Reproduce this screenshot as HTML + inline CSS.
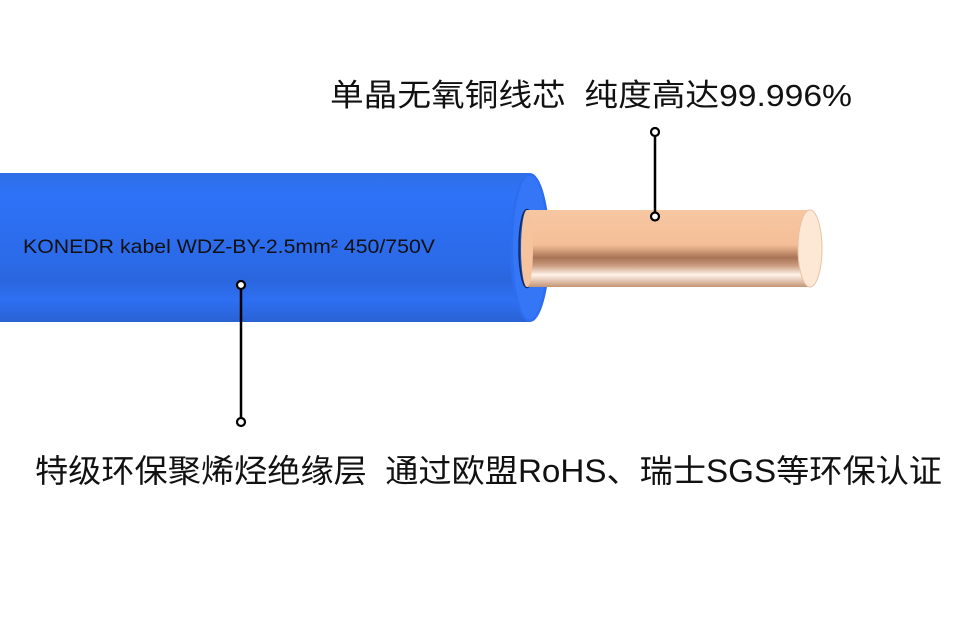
<!DOCTYPE html>
<html><head><meta charset="utf-8"><style>
html,body{margin:0;padding:0;background:#fff;width:953px;height:635px;overflow:hidden}
</style></head><body>
<svg width="953" height="635" viewBox="0 0 953 635" xmlns="http://www.w3.org/2000/svg">
<defs>
<linearGradient id="blue" x1="0" y1="0" x2="0" y2="1">
<stop offset="0" stop-color="#2f6fe6"/>
<stop offset="0.15" stop-color="#2e72f8"/>
<stop offset="0.6" stop-color="#2b6ae8"/>
<stop offset="0.72" stop-color="#2a66dd"/>
<stop offset="0.85" stop-color="#2e6ff2"/>
<stop offset="1" stop-color="#2a62d4"/>
</linearGradient>
<linearGradient id="cu" x1="0" y1="0" x2="0" y2="1">
<stop offset="0" stop-color="#f6c7a2"/>
<stop offset="0.45" stop-color="#f4bf98"/>
<stop offset="0.62" stop-color="#a87456"/>
<stop offset="0.72" stop-color="#c99a7c"/>
<stop offset="0.84" stop-color="#fff3ea"/>
<stop offset="1" stop-color="#c49474"/>
</linearGradient>
</defs>
<rect x="0" y="173" width="530" height="149" fill="url(#blue)"/>
<ellipse cx="530" cy="247.5" rx="20" ry="74.5" fill="#2d6df0"/>
<ellipse cx="530" cy="247.5" rx="17" ry="72" fill="#3476f6"/>
<ellipse cx="527" cy="248.5" rx="8" ry="39" fill="#1f4fb4" stroke="#102a66" stroke-width="1.5"/>
<rect x="527" y="210" width="283" height="77" fill="url(#cu)"/>
<ellipse cx="527" cy="248.5" rx="6" ry="38.5" fill="#f5c39d"/>
<ellipse cx="810" cy="248.5" rx="12" ry="38.5" fill="#fde8d6" stroke="#e8c2a4" stroke-width="1"/>
<text x="23" y="253" font-family="Liberation Sans, sans-serif" font-size="19" fill="#111" textLength="412" lengthAdjust="spacingAndGlyphs">KONEDR kabel WDZ-BY-2.5mm² 450/750V</text>
<line x1="655" y1="136" x2="655" y2="212" stroke="#000" stroke-width="2.5"/>
<circle cx="655" cy="132" r="4" fill="#fff" stroke="#000" stroke-width="2.2"/>
<circle cx="655" cy="216.5" r="4" fill="#fff" stroke="#000" stroke-width="2.2"/>
<line x1="241" y1="289" x2="241" y2="418" stroke="#000" stroke-width="2.5"/>
<circle cx="241" cy="285" r="4" fill="#fff" stroke="#000" stroke-width="2.2"/>
<circle cx="241" cy="422" r="4" fill="#fff" stroke="#000" stroke-width="2.2"/>
<text x="330" y="106" font-family="Liberation Sans, 'Noto Sans CJK SC', sans-serif" font-size="31" fill="#111" textLength="522" lengthAdjust="spacingAndGlyphs" xml:space="preserve">单晶无氧铜线芯  纯度高达99.996%</text>
<text x="35" y="482" font-family="Liberation Sans, 'Noto Sans CJK SC', sans-serif" font-size="32" fill="#111" textLength="907" lengthAdjust="spacingAndGlyphs" xml:space="preserve">特级环保聚烯烃绝缘层  通过欧盟RoHS、瑞士SGS等环保认证</text>
</svg>
</body></html>
